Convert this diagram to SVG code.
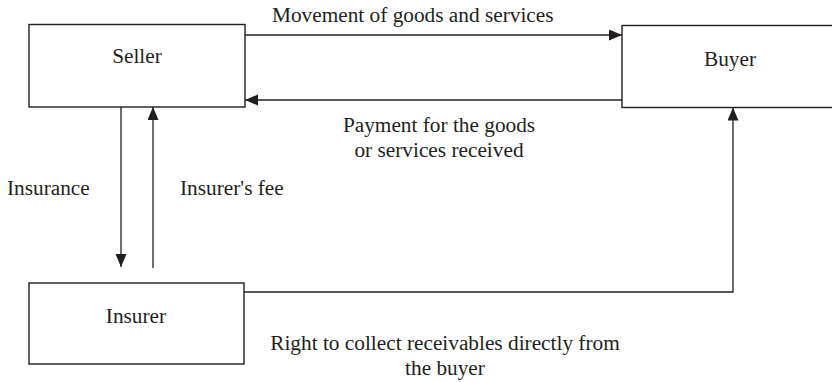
<svg xmlns="http://www.w3.org/2000/svg" width="832" height="382" viewBox="0 0 832 382">
  <style>
    .box { fill: #ffffff; stroke: #231f20; stroke-width: 1.4; }
    .conn { fill: none; stroke: #231f20; stroke-width: 1.3; }
    text { font-family: "Liberation Serif", "Times New Roman", serif; font-size: 21.3px; fill: #231f20; }
    .c { text-anchor: middle; }
  </style>
  <defs>
    <marker id="arrow" markerUnits="userSpaceOnUse" markerWidth="14" markerHeight="12" refX="13" refY="5.5" orient="auto">
      <path d="M0,0 L13,5.5 L0,11 Z" fill="#231f20"/>
    </marker>
  </defs>
  <rect width="832" height="382" fill="#ffffff"/>

  <g id="seller">
    <rect class="box" x="29" y="24.5" width="216" height="82.5"/>
    <text class="c" x="137" y="63">Seller</text>
  </g>
  <g id="buyer">
    <rect class="box" x="622" y="25.5" width="220" height="82"/>
    <text class="c" x="730" y="66">Buyer</text>
  </g>
  <g id="insurer">
    <rect class="box" x="29" y="283" width="215" height="81"/>
    <text class="c" x="136" y="323">Insurer</text>
  </g>

  <g id="connectors">
    <line class="conn" x1="245" y1="35" x2="622" y2="35" marker-end="url(#arrow)"/>
    <line class="conn" x1="622" y1="100" x2="245" y2="100" marker-end="url(#arrow)"/>
    <line class="conn" x1="121" y1="107" x2="121" y2="267" marker-end="url(#arrow)"/>
    <line class="conn" x1="153" y1="268" x2="153" y2="107" marker-end="url(#arrow)"/>
    <polyline class="conn" points="244,292 733,292 733,107.5" marker-end="url(#arrow)"/>
  </g>

  <g id="labels">
    <text x="272" y="22">Movement of goods and services</text>
    <text class="c" x="439" y="132">Payment for the goods</text>
    <text class="c" x="439" y="157">or services received</text>
    <text x="7" y="195">Insurance</text>
    <text x="180" y="195">Insurer's fee</text>
    <text class="c" x="445" y="350">Right to collect receivables directly from</text>
    <text class="c" x="445" y="375">the buyer</text>
  </g>
</svg>
